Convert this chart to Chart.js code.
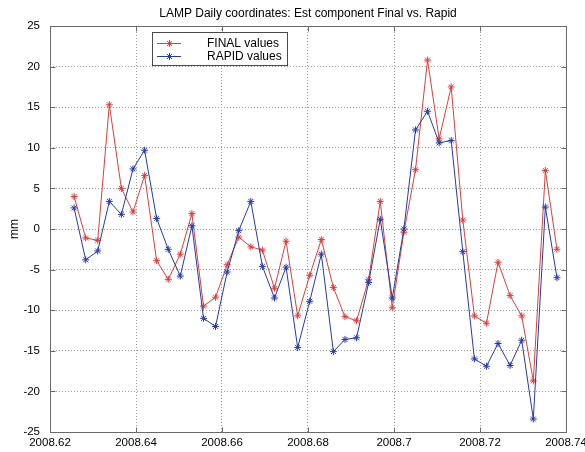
<!DOCTYPE html>
<html>
<head>
<meta charset="utf-8">
<script src="https://cdn.jsdelivr.net/npm/chart.js@4/dist/chart.umd.min.js"></script>
<style>
  html, body { margin: 0; padding: 0; background: #ffffff; }
  #wrap { width: 585px; height: 452px; }
</style>
</head>
<body>
<div id="wrap"><canvas id="c" width="585" height="452"></canvas></div>
<script>
// ---- data ----
const epochs = [
  2008.6256, 2008.6283, 2008.6311, 2008.6338, 2008.6366, 2008.6393, 2008.6420,
  2008.6448, 2008.6475, 2008.6503, 2008.6530, 2008.6557, 2008.6585, 2008.6612,
  2008.6639, 2008.6667, 2008.6694, 2008.6722, 2008.6749, 2008.6776, 2008.6804,
  2008.6831, 2008.6859, 2008.6886, 2008.6913, 2008.6941, 2008.6968, 2008.6996,
  2008.7023, 2008.7050, 2008.7078, 2008.7105, 2008.7133, 2008.7160, 2008.7187,
  2008.7215, 2008.7242, 2008.7270, 2008.7297, 2008.7324, 2008.7352, 2008.7379
];
const finalValues = [
  4.0, -1.1, -1.4, 15.3, 5.0, 2.1, 6.6, -3.9, -6.2, -3.1, 1.9, -9.5, -8.4, -4.4,
  -1.0, -2.2, -2.6, -7.3, -1.5, -10.7, -5.7, -1.3, -7.2, -10.8, -11.3, -6.2, 3.4,
  -9.7, -0.4, 7.3, 20.8, 11.1, 17.5, 1.1, -10.7, -11.6, -4.1, -8.2, -10.7, -18.7,
  7.2, -2.5
];
const rapidValues = [
  2.6, -3.8, -2.7, 3.4, 1.8, 7.4, 9.7, 1.3, -2.5, -5.8, 0.4, -11.0, -12.0, -5.3,
  -0.2, 3.4, -4.6, -8.5, -4.7, -14.6, -8.9, -3.1, -15.1, -13.6, -13.4, -6.6, 1.2,
  -8.5, 0.0, 12.2, 14.5, 10.6, 10.9, -2.8, -16.0, -16.9, -14.1, -16.8, -13.7, -23.4,
  2.7, -6.0
];
const seriesLabels = ['FINAL values', 'RAPID values'];
const titleText = 'LAMP Daily coordinates: Est component Final vs. Rapid';
const yAxisLabel = 'mm';
const xTickMin = 2008.62, xTickMax = 2008.74, xTickStep = 0.02;
const yTickMin = -25, yTickMax = 25, yTickStep = 5;

// ---- styles ----
const RED = '#d4413f';
const BLUE = '#263c9e';
const FONT = "'Liberation Sans', Arial, sans-serif";

function toPoints(xs, ys) { return xs.map((x, i) => ({ x: x, y: ys[i] })); }

function drawStar(ctx, x, y, r, color) {
  ctx.save();
  ctx.strokeStyle = color;
  ctx.lineWidth = 1;
  ctx.beginPath();
  ctx.moveTo(x - r, y); ctx.lineTo(x + r, y);
  ctx.moveTo(x, y - r); ctx.lineTo(x, y + r);
  const d = r * Math.SQRT1_2;
  ctx.moveTo(x - d, y - d); ctx.lineTo(x + d, y + d);
  ctx.moveTo(x - d, y + d); ctx.lineTo(x + d, y - d);
  ctx.stroke();
  ctx.restore();
}

const boxPlugin = {
  id: 'matlabBox',
  afterDraw(chart) {
    const ctx = chart.ctx;
    const a = chart.chartArea;
    const xs = chart.scales.x, ys = chart.scales.y;
    ctx.save();
    ctx.strokeStyle = '#6a6a6a';
    ctx.lineWidth = 1;
    const L = Math.round(a.left) + 0.5, R = Math.round(a.right) + 0.5;
    const T = Math.round(a.top) + 0.5, B = Math.round(a.bottom) + 0.5;
    ctx.strokeRect(L, T, R - L, B - T);
    ctx.beginPath();
    const tl = 5;
    xs.ticks.forEach(t => {
      const px = Math.round(xs.getPixelForValue(t.value)) + 0.5;
      ctx.moveTo(px, B); ctx.lineTo(px, B - tl);
      ctx.moveTo(px, T); ctx.lineTo(px, T + tl);
    });
    ys.ticks.forEach(t => {
      const py = Math.round(ys.getPixelForValue(t.value)) + 0.5;
      ctx.moveTo(L, py); ctx.lineTo(L + tl, py);
      ctx.moveTo(R, py); ctx.lineTo(R - tl, py);
    });
    ctx.stroke();
    ctx.restore();

    // legend
    ctx.save();
    const bx = 152.5, by = 32.5, bw = 135, bh = 33;
    ctx.fillStyle = '#ffffff';
    ctx.fillRect(bx, by, bw, bh);
    ctx.strokeStyle = '#4a4a4a';
    ctx.lineWidth = 1;
    ctx.strokeRect(bx, by, bw, bh);
    const items = [
      { label: chart.data.datasets[0].label, color: chart.data.datasets[0].borderColor, y: 43.5 },
      { label: chart.data.datasets[1].label, color: chart.data.datasets[1].borderColor, y: 56.5 }
    ];
    ctx.font = '12px ' + FONT;
    ctx.textBaseline = 'middle';
    ctx.textAlign = 'left';
    items.forEach(it => {
      ctx.strokeStyle = it.color;
      ctx.beginPath();
      ctx.moveTo(157, it.y); ctx.lineTo(181, it.y);
      ctx.stroke();
      drawStar(ctx, 169.5, it.y, 3.5, it.color);
      ctx.fillStyle = '#000';
      ctx.fillText(it.label, 207, it.y);
    });
    ctx.restore();
  }
};

const ctx = document.getElementById('c').getContext('2d');
new Chart(ctx, {
  type: 'line',
  data: {
    datasets: [
      {
        label: seriesLabels[0],
        data: toPoints(epochs, finalValues),
        borderColor: RED,
        backgroundColor: RED,
        borderWidth: 1,
        pointStyle: 'star',
        pointRadius: 3.5,
        pointBorderWidth: 1,
        pointBorderColor: RED,
        tension: 0,
        fill: false,
        order: 1
      },
      {
        label: seriesLabels[1],
        data: toPoints(epochs, rapidValues),
        borderColor: BLUE,
        backgroundColor: BLUE,
        borderWidth: 1,
        pointStyle: 'star',
        pointRadius: 3.5,
        pointBorderWidth: 1,
        pointBorderColor: BLUE,
        tension: 0,
        fill: false,
        order: 0
      }
    ]
  },
  options: {
    responsive: false,
    animation: false,
    events: [],
    layout: { padding: { top: 0, right: 19, left: 0, bottom: 0 } },
    plugins: {
      legend: { display: false },
      tooltip: { enabled: false },
      title: {
        display: true,
        text: titleText,
        fullSize: false,
        color: '#000',
        font: { family: FONT, size: 12, weight: 'normal', lineHeight: 1.2 },
        padding: { top: 6, bottom: 5.6 }
      }
    },
    scales: {
      x: {
        type: 'linear',
        min: xTickMin,
        max: xTickMax,
        afterFit(scale) { scale.height = 20; scale.paddingLeft = 0; scale.paddingRight = 0; },
        ticks: {
          stepSize: xTickStep,
          autoSkip: false,
          maxRotation: 0,
          padding: 4,
          color: '#000',
          font: { family: FONT, size: 11.5 },
          callback: v => String(parseFloat(Number(v).toFixed(2)))
        },
        grid: { color: '#9a9a9a', lineWidth: 1, drawTicks: false },
        border: { display: false, dash: [1, 2] }
      },
      y: {
        type: 'linear',
        min: yTickMin,
        max: yTickMax,
        afterFit(scale) { scale.width = 50; },
        ticks: {
          stepSize: yTickStep,
          padding: 10,
          color: '#000',
          font: { family: FONT, size: 11.5 },
          callback: v => String(Math.round(v))
        },
        title: {
          display: true,
          text: yAxisLabel,
          color: '#000',
          font: { family: FONT, size: 12 },
          padding: { top: 7, bottom: 0 }
        },
        grid: { color: '#9a9a9a', lineWidth: 1, drawTicks: false },
        border: { display: false, dash: [1, 2] }
      }
    }
  },
  plugins: [boxPlugin]
});
</script>
</body>
</html>
